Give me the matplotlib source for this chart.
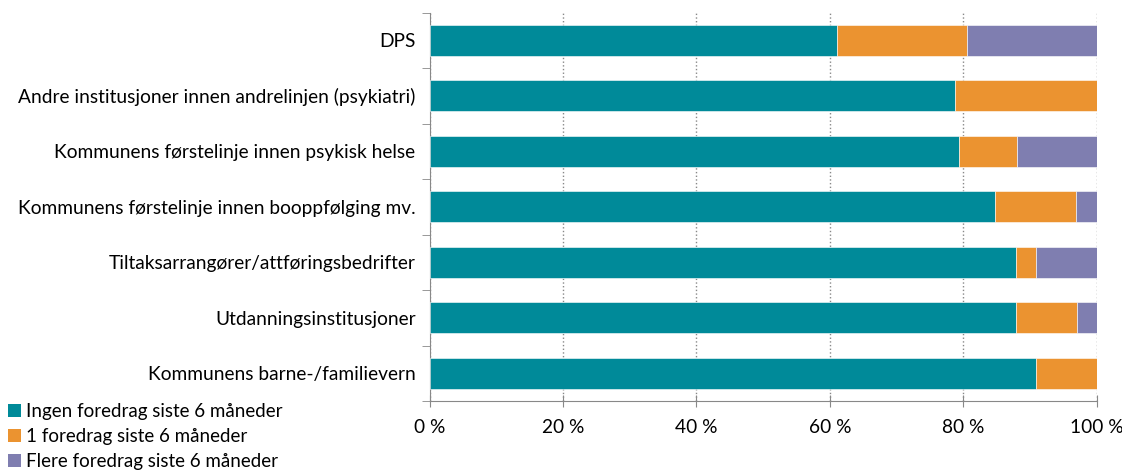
import numpy as np
import matplotlib.pyplot as plt
from matplotlib.patches import Patch

plt.rcParams['font.family'] = ['Lato', 'DejaVu Sans']

categories = [
    'DPS',
    'Andre institusjoner innen andrelinjen (psykiatri)',
    'Kommunens førstelinje innen psykisk helse',
    'Kommunens førstelinje innen booppfølging mv.',
    'Tiltaksarrangører/attføringsbedrifter',
    'Utdanningsinstitusjoner',
    'Kommunens barne-/familievern',
]
ingen = [61.1, 78.8, 79.3, 84.8, 87.9, 87.9, 90.9]
ett = [19.4, 21.2, 8.8, 12.1, 3.0, 9.1, 9.1]
flere = [19.5, 0.0, 11.9, 3.1, 9.1, 3.0, 0.0]
series_names = ['Ingen foredrag siste 6 måneder',
                '1 foredrag siste 6 måneder',
                'Flere foredrag siste 6 måneder']
colors = ['#008A99', '#EB9330', '#7F7EB0']
xticks = [0, 20, 40, 60, 80, 100]

fig = plt.figure(figsize=(11.22, 4.70), dpi=100)
ax = fig.add_axes([429.5/1122, 1 - 401/470, (1096.7-429.5)/1122, (401-12.5)/470])

y = np.arange(len(categories))
left = np.zeros(len(categories))
for vals, c in zip([ingen, ett, flere], colors):
    ax.barh(y, vals, left=left, height=0.56, color=c, edgecolor='white',
            linewidth=0.4, zorder=3)
    left += np.array(vals)

ax.set_ylim(len(categories) - 0.5, -0.5)
ax.set_xlim(0, 100)

# category ticks sit between bars
ax.set_yticks(y)
ax.set_yticklabels(categories, fontsize=13.8)
ax.tick_params(axis='y', length=0, pad=10)
ax.set_yticks(np.arange(-0.5, len(categories)), minor=True)
ax.tick_params(axis='y', which='minor', length=6, color='#888888', direction='out')

ax.set_xticks(xticks)
ax.set_xticklabels([f'{t} %' for t in xticks], fontsize=13.8)
ax.tick_params(axis='x', length=8, direction='inout', color='#888888', pad=9)

ax.grid(axis='x', linestyle=':', color='#888888', linewidth=1, zorder=0)
for s in ['top', 'right']:
    ax.spines[s].set_visible(False)
ax.spines['left'].set_color('#888888')
ax.spines['bottom'].set_color('#888888')

handles = [Patch(facecolor=c, edgecolor='none') for c in colors]
fig.legend(handles, series_names, loc='upper left', bbox_to_anchor=(0.0, 0.158),
           frameon=False, fontsize=13.5, handlelength=0.7, handleheight=0.7,
           handletextpad=0.3, labelspacing=0.42, borderaxespad=0.2, borderpad=0.2)

fig.savefig('out.png', dpi=100)
